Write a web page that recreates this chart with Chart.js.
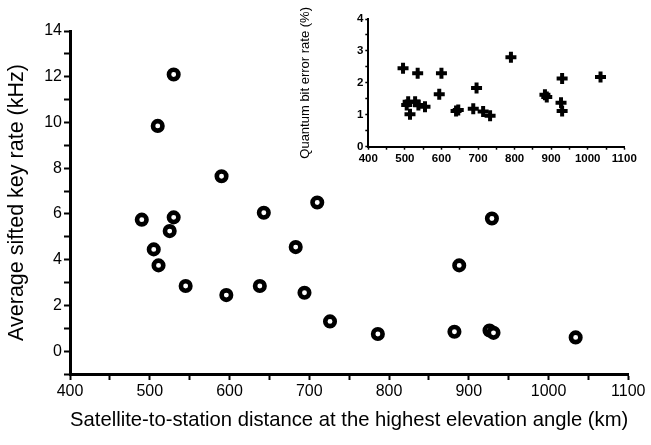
<!DOCTYPE html>
<html>
<head>
<meta charset="utf-8">
<script src="https://cdn.jsdelivr.net/npm/chart.js@4/dist/chart.umd.min.js"></script>
<style>
  html, body { margin: 0; padding: 0; background: #fff; }
  #wrap { position: relative; width: 651px; height: 445px; }
  #main { position: absolute; left: 0; top: 0; }
  #inset { position: absolute; left: 290px; top: 0; }
</style>
</head>
<body>
<div id="wrap">
  <canvas id="main" width="651" height="445"></canvas>
  <canvas id="inset" width="361" height="180"></canvas>
</div>
<script>
// Main panel: satellite-to-station distance (km) vs average sifted key rate (kHz)
const distanceKm = [490, 505, 510, 511, 525, 530, 530, 545, 590, 596, 638, 643, 683, 694, 710, 726, 786, 882, 888, 926, 929, 931, 1034];
const keyRateKHz = [5.75, 4.45, 9.85, 3.75, 5.25, 12.1, 5.85, 2.85, 7.65, 2.45, 2.85, 6.05, 4.55, 2.55, 6.5, 1.3, 0.75, 0.85, 3.75, 0.9, 5.8, 0.8, 0.6];

// Inset: distance (km) vs quantum bit error rate (%)
const qberDistanceKm = [495, 505, 509, 514, 528, 535, 537, 555, 594, 600, 640, 646, 687, 696, 714, 733, 790, 883, 888, 927, 930, 930, 1035];
const qberPercent    = [2.46, 1.31, 1.41, 1.02, 1.41, 2.30, 1.31, 1.25, 1.64, 2.30, 1.12, 1.15, 1.19, 1.84, 1.10, 0.97, 2.80, 1.63, 1.56, 1.38, 2.14, 1.12, 2.18];

const xTicksMain = [400, 500, 600, 700, 800, 900, 1000, 1100];
const yTicksMain = [0, 2, 4, 6, 8, 10, 12, 14];
const yTicksInset = [0, 1, 2, 3, 4];

Chart.defaults.font.family = "'Liberation Sans', Arial, sans-serif";
Chart.defaults.color = '#000';

function pts(xs, ys) { return xs.map((x, i) => ({ x: x, y: ys[i] })); }

const whiteBg = {
  id: 'whiteBg',
  beforeDraw(chart) {
    if (chart.canvas.id !== 'main') return;
    const c = chart.ctx;
    c.save();
    c.fillStyle = '#fff';
    c.fillRect(0, 0, chart.width, chart.height);
    c.restore();
  }
};

new Chart(document.getElementById('main'), {
  type: 'scatter',
  data: {
    datasets: [{
      data: pts(distanceKm, keyRateKHz),
      pointStyle: 'circle',
      pointRadius: 4.75,
      pointBorderWidth: 4.6,
      pointBorderColor: '#000',
      pointBackgroundColor: '#fff'
    }]
  },
  options: {
    responsive: false,
    animation: false,
    devicePixelRatio: 1,
    layout: { padding: { left: 0, right: 22.7, top: 31, bottom: 0 } },
    plugins: { legend: { display: false }, tooltip: { enabled: false } },
    scales: {
      x: {
        type: 'linear', min: 400, max: 1100,
        afterFit(s) { s.height = 71; },
        border: { display: true, color: '#000', width: 3 },
        grid: { drawOnChartArea: false, drawTicks: true, tickLength: 6, tickColor: '#000', tickWidth: 2 },
        ticks: {
          stepSize: 50, autoSkip: false, maxRotation: 0, padding: 2,
          font: { size: 16 }, color: '#000',
          callback: v => xTicksMain.includes(v) ? String(v) : ''
        },
        title: {
          display: true,
          text: 'Satellite-to-station distance at the highest elevation angle (km)',
          font: { size: 20.3 }, color: '#000',
          padding: { top: 0, bottom: 12 }
        }
      },
      y: {
        type: 'linear', min: -1, max: 14,
        afterFit(s) { s.width = 70; },
        border: { display: true, color: '#000', width: 3 },
        grid: { drawOnChartArea: false, drawTicks: true, tickLength: 6, tickColor: '#000', tickWidth: 2 },
        ticks: {
          stepSize: 1, autoSkip: false, padding: 2,
          font: { size: 16 }, color: '#000',
          callback: v => yTicksMain.includes(v) ? String(v) : ''
        },
        title: {
          display: true,
          text: 'Average sifted key rate (kHz)',
          font: { size: 21.5 }, color: '#000',
          padding: { top: 4.5, bottom: 0 }
        }
      }
    }
  },
  plugins: [whiteBg]
});

new Chart(document.getElementById('inset'), {
  type: 'scatter',
  data: {
    datasets: [{
      data: pts(qberDistanceKm, qberPercent),
      pointStyle: 'cross',
      pointRadius: 5.5,
      pointBorderWidth: 4,
      pointBorderColor: '#000',
      pointBackgroundColor: '#000'
    }]
  },
  options: {
    responsive: false,
    animation: false,
    devicePixelRatio: 1,
    layout: { padding: { left: 0, right: 26.7, top: 19, bottom: 0 } },
    plugins: { legend: { display: false }, tooltip: { enabled: false } },
    scales: {
      x: {
        type: 'linear', min: 400, max: 1100,
        afterFit(s) { s.height = 33.3; },
        border: { display: true, color: '#000', width: 2 },
        grid: { drawOnChartArea: false, drawTicks: true, tickLength: 3, tickColor: '#000', tickWidth: 1.5 },
        ticks: {
          stepSize: 50, autoSkip: false, maxRotation: 0, padding: 2,
          font: { size: 11.5, weight: 'bold' }, color: '#000',
          callback: v => (v % 100 === 0) ? String(v) : ''
        },
        title: { display: false }
      },
      y: {
        type: 'linear', min: 0, max: 4,
        afterFit(s) { s.width = 78.3; },
        border: { display: true, color: '#000', width: 2 },
        grid: { drawOnChartArea: false, drawTicks: true, tickLength: 3, tickColor: '#000', tickWidth: 1.5 },
        ticks: {
          stepSize: 0.5, autoSkip: false, padding: 2,
          font: { size: 11.5, weight: 'bold' }, color: '#000',
          callback: v => yTicksInset.includes(v) ? String(v) : ''
        },
        title: {
          display: true,
          text: 'Quantum bit error rate (%)',
          font: { size: 13 }, color: '#000',
          padding: { top: 7.5, bottom: 0 }
        }
      }
    }
  }
});
</script>
</body>
</html>
